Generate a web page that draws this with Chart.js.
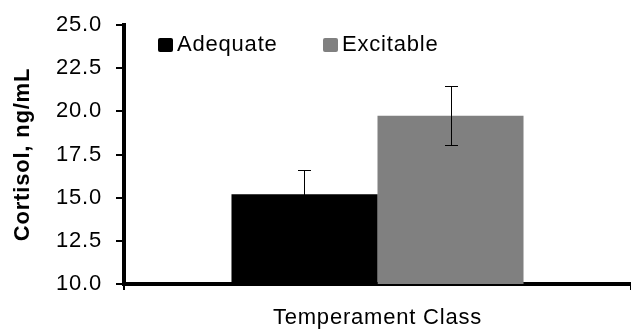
<!DOCTYPE html>
<html>
<head>
<meta charset="utf-8">
<script src="https://cdn.jsdelivr.net/npm/chart.js@4"></script>
<style>
  html, body { margin: 0; padding: 0; background: #fff; }
  #wrap { width: 631px; height: 333px; position: relative; }
</style>
</head>
<body>
<div id="wrap"><canvas id="myChart"></canvas></div>
<script>
// values
const categories = [''];
const groups = ['Adequate', 'Excitable'];
const cortisol = [15.2, 19.75];
const cortisolErr = [1.4, 1.7];
const yTicks = { min: 10, max: 25, step: 2.5 };

const barColors = ['#000000', '#808080'];
const FONT = "'Liberation Sans', Arial, sans-serif";
const SPACING = '0.8px';

Chart.defaults.font.family = FONT;
Chart.defaults.font.size = 22;
Chart.defaults.color = '#000';

// the original text is set a bit wide, so add letter spacing on the canvas
const spacingPlugin = {
  id: 'spacing',
  beforeInit(chart) { chart.ctx.letterSpacing = SPACING; },
  beforeLayout(chart) { chart.ctx.letterSpacing = SPACING; },
  beforeDraw(chart) { chart.ctx.letterSpacing = SPACING; }
};

// error bars on top of every bar
const errorBars = {
  id: 'errorBars',
  afterDatasetsDraw(chart) {
    const ctx = chart.ctx;
    const y = chart.scales.y;
    ctx.save();
    ctx.strokeStyle = '#000';
    ctx.lineWidth = 1;
    chart.data.datasets.forEach((ds, i) => {
      const bar = chart.getDatasetMeta(i).data[0];
      const x = Math.round(bar.x) + 0.5;
      const hi = Math.round(y.getPixelForValue(cortisol[i] + cortisolErr[i])) + 0.5;
      const lo = Math.round(y.getPixelForValue(cortisol[i] - cortisolErr[i])) + 0.5;
      ctx.beginPath();
      ctx.moveTo(x, hi); ctx.lineTo(x, lo);
      ctx.moveTo(x - 6.5, hi); ctx.lineTo(x + 6.5, hi);
      ctx.moveTo(x - 6.5, lo); ctx.lineTo(x + 6.5, lo);
      ctx.stroke();
    });
    ctx.restore();
  }
};

// legend sits inside the plot area, like the Excel original
const insideLegend = {
  id: 'insideLegend',
  afterDraw(chart) {
    const ctx = chart.ctx;
    const area = chart.chartArea;
    const startX = [area.left + 34, area.left + 199];
    const boxTop = area.top + 13;
    ctx.save();
    ctx.letterSpacing = SPACING;
    ctx.font = '22px ' + FONT;
    ctx.textBaseline = 'middle';
    ctx.textAlign = 'left';
    chart.data.datasets.forEach((ds, i) => {
      ctx.fillStyle = ds.backgroundColor;
      ctx.beginPath();
      ctx.roundRect(startX[i], boxTop, 15, 14, 2);
      ctx.fill();
      ctx.fillStyle = '#000';
      ctx.fillText(ds.label, startX[i] + 19, boxTop + 7);
    });
    ctx.restore();
  }
};

const datasets = groups.map((name, i) => ({
  label: name,
  data: [cortisol[i]],
  backgroundColor: barColors[i],
  borderWidth: 0,
  barPercentage: 1,
  categoryPercentage: 0.576
}));

new Chart(document.getElementById('myChart'), {
  type: 'bar',
  data: { labels: categories, datasets: datasets },
  options: {
    responsive: true,
    maintainAspectRatio: false,
    animation: false,
    events: [],
    layout: { padding: { top: 24, right: 0, bottom: 0, left: 0 } },
    plugins: {
      legend: { display: false },
      tooltip: { enabled: false }
    },
    scales: {
      x: {
        offset: true,
        grid: { display: true, drawOnChartArea: false, offset: true, color: '#000', lineWidth: 2, tickLength: 6 },
        border: { color: '#000', width: 4 },
        ticks: { display: false },
        title: { display: true, text: 'Temperament Class', font: { size: 22 }, padding: { top: 0, bottom: 2 } },
        afterFit(scale) { scale.height = 49; }
      },
      y: {
        min: yTicks.min,
        max: yTicks.max,
        grid: { drawOnChartArea: false, color: '#000', lineWidth: 2, tickLength: 8 },
        border: { color: '#000', width: 4 },
        ticks: {
          stepSize: yTicks.step,
          padding: 14,
          font: { size: 22, lineHeight: 1 },
          callback: v => v.toFixed(1)
        },
        title: { display: true, text: 'Cortisol, ng/mL', font: { size: 22, weight: 'bold' }, padding: { top: 10, bottom: 0 } },
        afterFit(scale) { scale.width = 124; }
      }
    }
  },
  plugins: [spacingPlugin, errorBars, insideLegend]
});
</script>
</body>
</html>
